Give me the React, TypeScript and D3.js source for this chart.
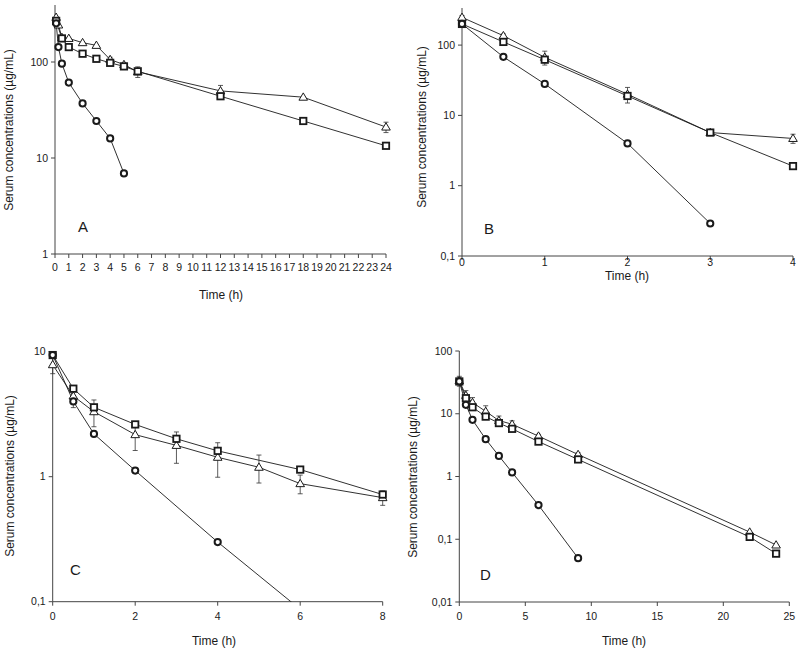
import React from 'react';
import * as d3 from 'd3';

// Panel A
const tCircleA = [0.083, 0.25, 0.5, 1, 2, 3, 4, 5];
const circleA = [253, 143, 96, 61, 37, 24.3, 16, 6.9];
const tSquareA = [0.083, 0.5, 1, 2, 3, 4, 5, 6, 12, 18, 24];
const squareA = [268, 176, 143, 122, 108, 98, 90, 80, 44, 24.3, 13.4];
const tTriangleA = [0.083, 0.25, 0.5, 1, 2, 3, 4, 5, 6, 12, 18, 24];
const triangleA = [292, 243, 180, 176, 159, 149, 106, 94, 79, 50, 43, 21];
const sdTriangleA = [0, 0, 0, 0, 0, 0, 6, 4, 10, 7, 0, 2.6];
const xTicksA = d3.range(0, 25);
const yTicksA = [1, 10, 100];

// Panel B
const tCircleB = [0, 0.5, 1, 2, 3];
const circleB = [200, 68, 28, 4.0, 0.29];
const tSquareB = [0, 0.5, 1, 2, 3, 4];
const squareB = [200, 111, 62, 18.9, 5.7, 1.9];
const tTriangleB = [0, 0.5, 1, 2, 3, 4];
const triangleB = [248, 136, 67, 20, 5.7, 4.7];
const sdTriangleB = [15, 8, 15, 5, 0.3, 0.7];
const xTicksB = [0, 1, 2, 3, 4];
const yTicksB = [0.1, 1, 10, 100];

// Panel C
const tCircleC = [0, 0.5, 1, 2, 4, 6];
const circleC = [9.4, 4.0, 2.2, 1.12, 0.3, 0.087];
const tSquareC = [0, 0.5, 1, 2, 3, 4, 6, 8];
const squareC = [9.4, 5.06, 3.59, 2.62, 2.01, 1.61, 1.14, 0.72];
const tTriangleC = [0, 0.5, 1, 2, 3, 4, 5, 6, 8];
const triangleC = [7.87, 4.42, 3.31, 2.17, 1.78, 1.43, 1.19, 0.88, 0.68];
const sdTriangleC = [1.2, 0.85, 0.8, 0.55, 0.5, 0.44, 0.3, 0.15, 0.09];
const xTicksC = [0, 2, 4, 6, 8];
const yTicksC = [0.1, 1, 10];

// Panel D
const tCircleD = [0, 0.5, 1, 2, 3, 4, 6, 9];
const circleD = [32.7, 13.9, 8.0, 3.93, 2.13, 1.16, 0.35, 0.05];
const tSquareD = [0, 0.5, 1, 2, 3, 4, 6, 9, 22, 24];
const squareD = [32.7, 17.7, 12.7, 9.0, 7.1, 5.75, 3.6, 1.87, 0.109, 0.059];
const tTriangleD = [0, 0.5, 1, 2, 3, 4, 6, 9, 22, 24];
const triangleD = [33.5, 19.6, 15.1, 10.9, 7.8, 6.8, 4.4, 2.24, 0.13, 0.081];
const sdTriangleD = [6, 3.8, 3, 2.5, 1.4, 0.9, 0.3, 0.15, 0, 0];
const xTicksD = [0, 5, 10, 15, 20, 25];
const yTicksD = [0.01, 0.1, 1, 10, 100];

const FONT = '"Liberation Sans", Arial, sans-serif';
const INK = '#1a1a1a';

type Series = { t: number[]; v: number[]; sd?: number[]; shape: 'circle' | 'square' | 'triangle' };

interface PanelProps {
  letter: string;
  x0: number; x1: number; xMax: number;
  yBottom: number; yTop: number; decadePx: number; yMin: number;
  xTicks: number[]; yTicks: number[];
  series: Series[];
  letterPos: [number, number];
  yLabelPos: [number, number];
  xLabelPos: [number, number];
  xTickY: number;
  id: string;
}

const fmt = (d: number) => String(d).replace('.', ',');

const Marker = ({ shape, cx, cy }: { shape: Series['shape']; cx: number; cy: number }) => {
  if (shape === 'circle')
    return <circle cx={cx} cy={cy} r={3.1} fill="#fff" stroke={INK} strokeWidth={2} />;
  if (shape === 'square')
    return <rect x={cx - 3.2} y={cy - 3.2} width={6.4} height={6.4} fill="#fff" stroke={INK} strokeWidth={1.8} />;
  const s = 4.3;
  return (
    <path
      d={`M${cx},${cy - s}L${cx + s},${cy + s * 0.7}L${cx - s},${cy + s * 0.7}Z`}
      fill="#fff" stroke={INK} strokeWidth={1}
    />
  );
};

const Panel = (p: PanelProps) => {
  const x = d3.scaleLinear().domain([0, p.xMax]).range([p.x0, p.x1]);
  const decades = Math.log10(p.yTicks[p.yTicks.length - 1] / p.yMin) + 1;
  const y = d3.scaleLog()
    .domain([p.yMin, p.yMin * Math.pow(10, decades)])
    .range([p.yBottom, p.yBottom - decades * p.decadePx]);
  const line = d3.line<[number, number]>().x((d) => x(d[0])).y((d) => y(d[1]));
  const order: Series['shape'][] = ['triangle', 'square', 'circle'];
  const sorted = [...p.series].sort((a, b) => order.indexOf(a.shape) - order.indexOf(b.shape));

  return (
    <g>
      <defs>
        <clipPath id={p.id}>
          <rect x={p.x0 - 10} y={p.yTop - 20} width={p.x1 - p.x0 + 20} height={p.yBottom - p.yTop + 20} />
        </clipPath>
      </defs>
      {/* axes */}
      <line x1={p.x0} x2={p.x0} y1={p.yTop} y2={p.yBottom} stroke="#444" strokeWidth={1} />
      <line x1={p.x0} x2={p.x1} y1={p.yBottom} y2={p.yBottom} stroke="#444" strokeWidth={1} />
      {p.yTicks.map((t) => (
        <g key={'y' + t}>
          <line x1={p.x0 - 4} x2={p.x0} y1={y(t)} y2={y(t)} stroke="#444" />
          <text x={p.x0 - 7} y={y(t) + 3.6} textAnchor="end" fontSize={10.5} fontFamily={FONT} fill={INK}>
            {fmt(t)}
          </text>
        </g>
      ))}
      {p.xTicks.map((t) => (
        <g key={'x' + t}>
          <line x1={x(t)} x2={x(t)} y1={p.yBottom} y2={p.yBottom + 4} stroke="#444" />
          <text x={x(t)} y={p.xTickY} textAnchor="middle" fontSize={10.5} fontFamily={FONT} fill={INK}>
            {fmt(t)}
          </text>
        </g>
      ))}
      <text x={p.xLabelPos[0]} y={p.xLabelPos[1]} textAnchor="middle" fontSize={12} fontFamily={FONT} fill={INK}>
        Time (h)
      </text>
      <text
        transform={`translate(${p.yLabelPos[0]},${p.yLabelPos[1]}) rotate(-90)`}
        textAnchor="middle" fontSize={12} fontFamily={FONT} fill={INK}
      >
        Serum concentrations (µg/mL)
      </text>
      <text x={p.letterPos[0]} y={p.letterPos[1]} fontSize={15} fontFamily={FONT} fill={INK}>
        {p.letter}
      </text>
      <g clipPath={`url(#${p.id})`}>
        {sorted.map((s, i) => (
          <path key={'l' + i} d={line(s.t.map((t, j) => [t, s.v[j]] as [number, number])) || ''}
            fill="none" stroke={INK} strokeWidth={0.9} />
        ))}
        {sorted.map((s, i) =>
          s.sd ? s.t.map((t, j) => {
            const sd = s.sd![j];
            if (!sd) return null;
            const lo = Math.max(s.v[j] - sd, p.yMin * 0.5);
            const hi = s.v[j] + sd;
            return (
              <g key={'e' + i + '-' + j} stroke="#333" strokeWidth={0.8}>
                <line x1={x(t)} x2={x(t)} y1={y(lo)} y2={y(hi)} />
                <line x1={x(t) - 2.5} x2={x(t) + 2.5} y1={y(lo)} y2={y(lo)} />
                <line x1={x(t) - 2.5} x2={x(t) + 2.5} y1={y(hi)} y2={y(hi)} />
              </g>
            );
          }) : null
        )}
        {sorted.map((s, i) =>
          s.t.map((t, j) =>
            s.v[j] >= p.yMin ? <Marker key={'m' + i + '-' + j} shape={s.shape} cx={x(t)} cy={y(s.v[j])} /> : null
          )
        )}
      </g>
    </g>
  );
};

export default function App() {
  return (
    <svg width={800} height={654} style={{ position: 'absolute', left: 0, top: 0, background: '#fff' }}>
      <rect width={800} height={654} fill="#fff" />
      <Panel
        id="clipA" letter="A"
        x0={55} x1={386} xMax={24}
        yBottom={254} yTop={5} decadePx={96} yMin={1}
        xTicks={xTicksA} yTicks={yTicksA}
        series={[
          { t: tCircleA, v: circleA, shape: 'circle' },
          { t: tSquareA, v: squareA, shape: 'square' },
          { t: tTriangleA, v: triangleA, sd: sdTriangleA, shape: 'triangle' },
        ]}
        letterPos={[78, 232]} yLabelPos={[13, 130]} xLabelPos={[221, 299]} xTickY={271}
      />
      <Panel
        id="clipB" letter="B"
        x0={462} x1={793} xMax={4}
        yBottom={256} yTop={8} decadePx={70.3} yMin={0.1}
        xTicks={xTicksB} yTicks={yTicksB}
        series={[
          { t: tCircleB, v: circleB, shape: 'circle' },
          { t: tSquareB, v: squareB, shape: 'square' },
          { t: tTriangleB, v: triangleB, sd: sdTriangleB, shape: 'triangle' },
        ]}
        letterPos={[484, 234]} yLabelPos={[426, 127]} xLabelPos={[627, 280]} xTickY={266}
      />
      <Panel
        id="clipC" letter="C"
        x0={52.7} x1={382.7} xMax={8}
        yBottom={601.7} yTop={351.7} decadePx={125} yMin={0.1}
        xTicks={xTicksC} yTicks={yTicksC}
        series={[
          { t: tCircleC, v: circleC, shape: 'circle' },
          { t: tSquareC, v: squareC, shape: 'square' },
          { t: tTriangleC, v: triangleC, sd: sdTriangleC, shape: 'triangle' },
        ]}
        letterPos={[70, 575]} yLabelPos={[14, 476]} xLabelPos={[214, 645]} xTickY={620}
      />
      <Panel
        id="clipD" letter="D"
        x0={459.3} x1={789.3} xMax={25}
        yBottom={602} yTop={351} decadePx={62.75} yMin={0.01}
        xTicks={xTicksD} yTicks={yTicksD}
        series={[
          { t: tCircleD, v: circleD, shape: 'circle' },
          { t: tSquareD, v: squareD, shape: 'square' },
          { t: tTriangleD, v: triangleD, sd: sdTriangleD, shape: 'triangle' },
        ]}
        letterPos={[480, 580]} yLabelPos={[417, 477]} xLabelPos={[624, 645]} xTickY={620}
      />
    </svg>
  );
}
